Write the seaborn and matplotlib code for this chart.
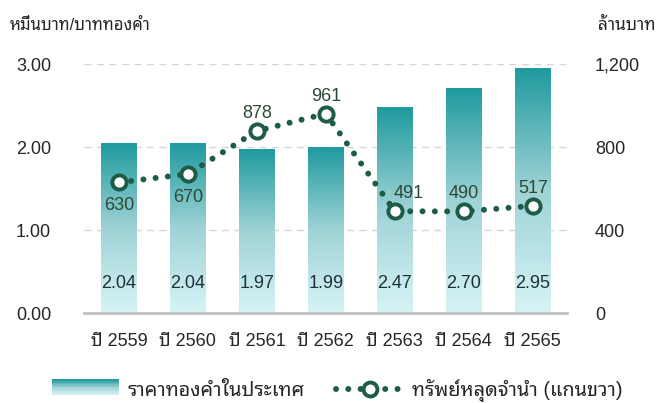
import numpy as np
import pandas as pd
import seaborn as sns
import matplotlib.pyplot as plt
from matplotlib.lines import Line2D
from matplotlib.patches import Rectangle
from matplotlib.legend_handler import HandlerBase
from matplotlib.colors import LinearSegmentedColormap

years = ["ปี 2559", "ปี 2560", "ปี 2561", "ปี 2562", "ปี 2563", "ปี 2564", "ปี 2565"]
gold_price = [2.04, 2.04, 1.97, 1.99, 2.47, 2.70, 2.95]
forfeited = [630, 670, 878, 961, 491, 490, 517]
label_below = [True, True, False, False, False, False, False]

sns.set_style("white")
plt.rcParams['font.family'] = ['Liberation Sans', 'Noto Sans Thai Looped', 'DejaVu Sans']

TEAL_TOP = "#1f9a9e"
TEAL_BOT = "#d6f4f6"
LINE_C = "#1d5c46"
grad = LinearSegmentedColormap.from_list("g", [TEAL_BOT, "#9fd3d6", TEAL_TOP])
FS = 13

df = pd.DataFrame({"year": years, "price": gold_price, "forfeit": forfeited})

fig = plt.figure(figsize=(6.65, 4.03), dpi=100)
ax = fig.add_axes([0.127, 0.223, 0.726, 0.618])

sns.barplot(data=df, x="year", y="price", ax=ax, width=0.52, color=TEAL_TOP, zorder=2)

# gradient fill for each bar
img = np.linspace(0, 1, 256).reshape(-1, 1)
for p in ax.patches:
    x0, w, h = p.get_x(), p.get_width(), p.get_height()
    p.set_facecolor("none")
    p.set_edgecolor("none")
    ax.imshow(img, cmap=grad, extent=[x0, x0 + w, 0, h], origin="lower",
              aspect="auto", zorder=2)
ax.set_xlim(-0.5, 6.5)
ax.set_ylim(0, 3)

for i, v in enumerate(gold_price):
    ax.text(i, 0.36, f"{v:.2f}", ha="center", va="center", fontsize=FS, color="#1f303a", zorder=5)

ax.set_yticks([0, 1, 2, 3])
ax.set_yticklabels(["0.00", "1.00", "2.00", "3.00"])
for y in [1, 2, 3]:
    ax.axhline(y, color="#d6d6d6", lw=1, ls=(0, (5, 4)), zorder=1)
for s in ax.spines.values():
    s.set_visible(False)
ax.spines["bottom"].set_visible(True)
ax.spines["bottom"].set_color("#c0c0c0")
ax.spines["bottom"].set_linewidth(2)
ax.set_xticks(np.arange(-0.5, 7, 1), minor=True)
ax.tick_params(axis="x", which="minor", length=6, width=2, color="#c0c0c0", direction="out")
ax.tick_params(axis="y", length=0, labelsize=FS, pad=24)
ax.tick_params(axis="x", which="major", length=0, labelsize=FS, pad=14)
ax.set_xlabel("")
ax.set_ylabel("")

ax2 = ax.twinx()
sns.lineplot(x=list(range(len(years))), y=forfeited, ax=ax2, color=LINE_C, lw=4.3,
             linestyle=(0, (0.01, 2.05)), zorder=3)
ax2.lines[0].set_dash_capstyle("round")
ax2.scatter(range(len(years)), forfeited, s=105, facecolor="white", edgecolor=LINE_C,
            linewidth=2.8, zorder=4, clip_on=False)
ax2.set_ylim(0, 1200)
ax2.set_yticks([0, 400, 800, 1200])
ax2.set_yticklabels(["0", "400", "800", "1,200"])
ax2.tick_params(axis="y", length=0, labelsize=FS, pad=20)
for lab in ax2.get_yticklabels():
    lab.set_ha("left")
for s in ax2.spines.values():
    s.set_visible(False)
ax2.set_ylabel("")

for i, v in enumerate(forfeited):
    dy = -112 if label_below[i] else 85
    dx = 0.2 if i == 4 else 0
    ax2.text(i + dx, v + dy, str(v), ha="center", va="center", fontsize=FS, color="#2c4a35",
             zorder=5, clip_on=False)

fig.text(0.015, 0.937, "หมื่นบาท/บาททองคำ", fontsize=12, ha="left", va="center")
fig.text(0.985, 0.937, "ล้านบาท", fontsize=12.5, ha="right", va="center")


class HandlerGradient(HandlerBase):
    def create_artists(self, legend, orig, xd, yd, w, h, fs, trans):
        arts = []
        n = 20
        for k in range(n):
            c = grad(1 - k / (n - 1))
            r = Rectangle((xd, yd + h - (k + 1) * h / n), w, h / n + 0.05,
                          facecolor=c, edgecolor="none", transform=trans)
            arts.append(r)
        return arts


bar_handle = Rectangle((0, 0), 1, 1)
line_handle = Line2D([0], [0], color=LINE_C, lw=4.3, linestyle=(0, (0.01, 2.05)),
                     dash_capstyle="round", marker="o", markersize=10,
                     markerfacecolor="white", markeredgecolor=LINE_C, markeredgewidth=2.8)
fig.legend([bar_handle, line_handle], ["ราคาทองคำในประเทศ", "ทรัพย์หลุดจำนำ (แกนขวา)"],
           handler_map={Rectangle: HandlerGradient()}, loc="center", ncol=2,
           bbox_to_anchor=(0.507, 0.03), frameon=False, fontsize=14.3,
           handlelength=3.4, handleheight=0.85, columnspacing=1.6, handletextpad=0.4,
           numpoints=1, borderpad=0.2)

fig.savefig("out.png", dpi=100)
